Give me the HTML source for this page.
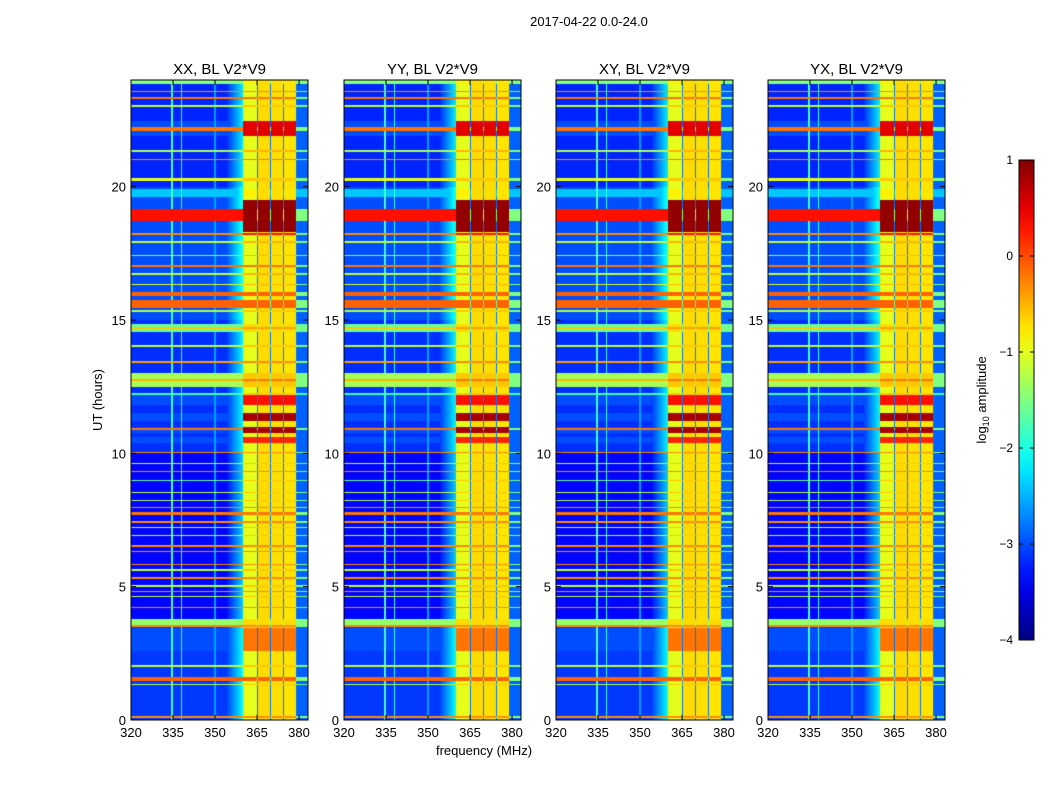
<!DOCTYPE html>
<html><head><meta charset="utf-8"><style>
body{margin:0;background:#fff;width:1050px;height:800px;overflow:hidden;position:relative;font-family:"Liberation Sans",sans-serif}
canvas{position:absolute}
svg{position:absolute;left:0;top:0}
</style></head><body>
<svg id="ov" width="1050" height="800"></svg>
<script>
// ---- data ----
const panelTitles=["XX, BL V2*V9","YY, BL V2*V9","XY, BL V2*V9","YX, BL V2*V9"];
const xTicks=[320,335,350,365,380];
const yTicks=[0,5,10,15,20];
const cbTicks=[1,0,-1,-2,-3,-4];
// background level of low band by time range [t0,t1,level]
const bgBands=[[0,3.5,-3.1],[3.5,10,-3.35],[10,15,-3.15],[15,20,-3.0],[20,24,-3.2]];
// high-band sub-band base levels [f0,f1,level]
const subBands=[[360,365,-1.0],[365.5,369.5,-0.7],[370,374.1,-0.72],[374.6,379,-0.75],[379.4,383.2,-2.9]];
// vertical low-band lines [freq, level]
const vLines=[[334.6,-1.8],[338,-1.9],[350,-2.6]];
// horizontal features [t0,t1,lowLevel,highLevel]
const events=[
[23.85,24,-1.5,-0.8],[23.3,23.38,-0.2,-0.2],[23.55,23.6,-0.3,-0.3],[23.0,23.08,-1.2,-0.6],
[22.1,22.22,-0.2,-0.1],[21.9,22.45,-3.0,0.5],[21.3,21.36,-1.3,-0.5],[21.0,21.05,-0.3,-0.2],
[20.2,20.34,-1.0,-0.6],[19.6,19.9,-2.4,-0.8],[18.3,19.5,-3.0,0.9],[18.7,19.15,0.3,0.9],
[18.2,18.25,-0.3,0.3],[17.9,17.96,-1.2,-0.5],[17.4,17.44,-1.4,-0.5],[17.0,17.08,-0.2,-0.2],
[16.7,16.76,-1.2,-0.5],[16.3,16.36,-1.0,-0.5],[15.9,16.05,-0.1,-0.1],[15.45,15.75,-0.1,-0.1],
[15.3,15.36,-1.3,-0.6],[14.55,14.85,-1.6,-0.7],[14.68,14.72,-0.6,-0.4],[14.0,14.05,-1.2,-0.6],
[13.4,13.45,-0.4,-0.3],[12.5,13.0,-1.3,-0.6],[12.72,12.78,-0.5,-0.2],[12.2,12.25,-1.8,-0.6],
[11.8,12.2,-3.0,0.3],[11.2,11.5,-3.0,0.8],[10.75,11.0,-3.0,0.8],[10.88,10.96,-0.2,0.8],
[10.4,10.6,-3.0,0.2],[10.0,10.05,-0.3,-0.3],[9.6,9.65,-1.2,-0.6],[9.3,9.35,-0.3,-0.3],
[8.95,9.0,-1.6,-0.6],[8.5,8.55,-1.2,-0.6],[8.2,8.25,-1.3,-0.6],[7.95,8.0,-0.3,-0.3],
[7.7,7.8,-0.2,-0.2],[7.4,7.45,-0.3,-0.3],[7.2,7.25,-1.2,-0.6],[6.9,6.95,-1.2,-0.6],
[6.5,6.55,-0.3,-0.3],[6.3,6.35,-0.3,-0.3],[5.8,5.85,-0.3,-0.3],[5.6,5.65,-1.2,-0.6],
[5.3,5.35,-0.3,-0.3],[5.0,5.05,-1.2,-0.6],[4.8,4.85,-0.3,-0.3],[4.6,4.65,-1.2,-0.6],
[4.2,4.25,-0.3,-0.3],[3.55,3.8,-1.4,-0.7],[3.5,3.55,-0.3,-0.3],[2.6,3.45,-3.0,-0.2],
[2.0,2.05,-1.2,-0.6],[1.45,1.6,-0.1,-0.1],[1.3,1.35,-1.2,-0.6],[0.08,0.14,-0.3,-0.3]];
const panelLeft=[131,344,556,768];
const PW=177,PT=80,PH=640,F0=320,F1=383.2,T1=24;
// ---- helpers ----
function fx(f){return (f-F0)/(F1-F0)*PW;}
function ty(t){return PH-(t/T1)*PH;}
function jet(v){let x=Math.max(0,Math.min(1,(v+4)/5));const c=a=>Math.round(255*Math.max(0,Math.min(1,1.5-Math.abs(4*x-a))));return [c(3),c(2),c(1)];}
function value(t,f){
  let v=-3.2;
  for(const b of bgBands) if(t>=b[0]&&t<b[1]) v=b[2];
  let high=false;
  if(f>=360){high=true;v=-2.8;for(const s of subBands) if(f>=s[0]&&f<s[1]) v=s[2];}
  else{ if(f>354) v+=(f-354)/6*1.0; for(const l of vLines) if(Math.abs(f-l[0])<0.3) v=Math.max(v,l[1]); }
  for(const e of events) if(t>=e[0]&&t<e[1]){
    if(high){ const isBand=subBands.slice(0,4).some(s=>f>=s[0]&&f<s[1]); v=isBand?Math.max(v,e[3]):Math.max(v,Math.min(e[2],-1.5)); }
    else v=Math.max(v,e[2]);
  }
  return v;
}
const svgNS="http://www.w3.org/2000/svg";
const ov=document.getElementById('ov');
function mk(tag,attrs,parent){const el=document.createElementNS(svgNS,tag);for(const k in attrs)el.setAttribute(k,attrs[k]);(parent||ov).appendChild(el);return el;}
function txt(s,x,y,size,anchor,parent){const t=mk('text',{x:x,y:y,'font-size':size,'text-anchor':anchor||'middle','font-family':'Liberation Sans, sans-serif',fill:'#000'},parent);t.textContent=s;return t;}
// ---- panels ----
panelLeft.forEach((L,p)=>{
  const cv=document.createElement('canvas');
  cv.width=PW;cv.height=PH;cv.style.left=L+'px';cv.style.top=PT+'px';
  
  
  document.body.insertBefore(cv,ov);
  const ctx=cv.getContext('2d');const img=ctx.createImageData(PW,PH);
  for(let y=0;y<PH;y++){const t=(PH-y-0.5)/PH*T1;
    for(let x=0;x<PW;x++){const f=F0+(x+0.5)/PW*(F1-F0);const c=jet(value(t,f));const i=(y*PW+x)*4;
      img.data[i]=c[0];img.data[i+1]=c[1];img.data[i+2]=c[2];img.data[i+3]=255;}}
  ctx.putImageData(img,0,0);
  const g=mk('g',{});
  
  
  mk('rect',{x:L,y:PT,width:PW,height:PH,fill:'none',stroke:'#000','stroke-width':1},g);
  const tt=txt(panelTitles[p],L+PW/2,74,15,'middle',g);
  
  
  xTicks.forEach(v=>{const x=L+fx(v);
    mk('line',{x1:x,x2:x,y1:PT+PH,y2:PT+PH-5,stroke:'#000'},g);
    mk('line',{x1:x,x2:x,y1:PT,y2:PT+5,stroke:'#000'},g);
    const l=txt(String(v),x,PT+PH+17,13,'middle',g);
    
    });
  yTicks.forEach(v=>{const y=PT+ty(v);
    mk('line',{x1:L,x2:L+5,y1:y,y2:y,stroke:'#000'},g);
    mk('line',{x1:L+PW,x2:L+PW-5,y1:y,y2:y,stroke:'#000'},g);
    const l=txt(String(v),L-5,y+5,13,'end',g);
    
    });
});
const st=txt('2017-04-22 0.0-24.0',589,26,13);


const xl=txt('frequency (MHz)',484,755,13);


const yl=txt('UT (hours)',0,0,13);
yl.setAttribute('transform','translate(102,400) rotate(-90)');


// ---- colorbar ----
const CX=1019,CY=160,CW=15,CH=480;
const defs=mk('defs',{});const gr=mk('linearGradient',{id:'jg',x1:0,y1:1,x2:0,y2:0},defs);
for(let i=0;i<=20;i++){const c=jet(-4+5*i/20);mk('stop',{offset:(i/20),'stop-color':`rgb(${c})`},gr);}
const cb=mk('rect',{x:CX,y:CY,width:CW,height:CH,fill:'url(#jg)',stroke:'#000'});


cbTicks.forEach(v=>{const y=CY+(1-v)/5*CH;
  mk('line',{x1:CX,x2:CX+4,y1:y,y2:y,stroke:'#000'});
  mk('line',{x1:CX+CW,x2:CX+CW-4,y1:y,y2:y,stroke:'#000'});
  const l=txt(v<0?'\u2212'+(-v):String(v),1013,y+4,12,'end');
  
  });
const cl=mk('text',{transform:'translate(986,400) rotate(-90)','font-size':13,'text-anchor':'middle','font-family':'Liberation Sans, sans-serif'});
cl.innerHTML='log<tspan font-size="9" dy="3">10</tspan><tspan dy="-3"> amplitude</tspan>';


</script>
</body></html>
